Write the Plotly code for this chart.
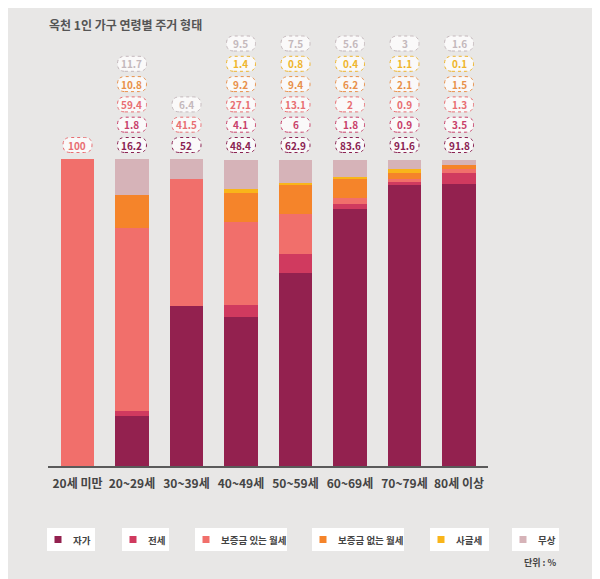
import plotly.graph_objects as go

categories = ["20세 미만", "20~29세", "30~39세", "40~49세", "50~59세", "60~69세", "70~79세", "80세 이상"]
series_names = ["자가", "전세", "보증금 있는 월세", "보증금 없는 월세", "사글세", "무상"]
jaga = [0, 16.2, 52, 48.4, 62.9, 83.6, 91.6, 91.8]
jeonse = [0, 1.8, 0, 4.1, 6, 1.8, 0.9, 3.5]
wolse_dep = [100, 59.4, 41.5, 27.1, 13.1, 2, 0.9, 1.3]
wolse_nodep = [0, 10.8, 0, 9.2, 9.4, 6.2, 2.1, 1.5]
sagulse = [0, 0, 0, 1.4, 0.8, 0.4, 1.1, 0.1]
musang = [0, 11.7, 6.4, 9.5, 7.5, 5.6, 3, 1.6]
series_values = [jaga, jeonse, wolse_dep, wolse_nodep, sagulse, musang]

bar_colors = ["#93214f", "#d03a5f", "#f16f6b", "#f5842a", "#f9b51a", "#d6b3b8"]
label_colors = ["#8a2252", "#c8406a", "#e86e72", "#e8904a", "#efb52c", "#c4b8bc"]

OFF = 8  # page body margin
W, H = 592, 571
L, R, T, B = 40, 112, 22, 113
plot_w = W - L - R
plot_h = H - T - B
px_per_unit = 3.07
y_top = plot_h / px_per_unit
base_px = OFF + H - B  # baseline in screen pixels
bg = "#e8e7e6"
font_kr = "Noto Sans CJK KR"

def px2x(px):
    return (px - OFF - L) / plot_w

def py2y(py):
    return (H - B - (py - OFF)) / plot_h

xs = list(range(len(categories)))
fig = go.Figure()
for name, vals, col in zip(series_names, series_values, bar_colors):
    fig.add_trace(go.Bar(x=xs, y=vals, name=name, marker=dict(color=col, line=dict(width=0)),
                         width=0.62, showlegend=False, hoverinfo="y+name"))

shapes = []
annotations = []

pill = ("M -7,-7.5 L 7,-7.5 Q 14.5,-7.5 14.5,0 Q 14.5,7.5 7,7.5 "
        "L -7,7.5 Q -14.5,7.5 -14.5,0 Q -14.5,-7.5 -7,-7.5 Z")
for i in xs:
    row = 0
    for s, vals in enumerate(series_values):
        v = vals[i]
        if v == 0:
            continue
        ypix = 145 - 20.3 * row
        yval = (base_px - ypix) / px_per_unit
        shapes.append(dict(type="path", xref="x", yref="y", xsizemode="pixel", ysizemode="pixel",
                           xanchor=i, yanchor=yval, path=pill,
                           fillcolor="rgba(251,250,250,0.95)",
                           line=dict(color=label_colors[s], width=1, dash="dot")))
        annotations.append(dict(x=i, y=yval, xref="x", yref="y", text=f"{v:g}", showarrow=False,
                                font=dict(family=font_kr, size=10, color=label_colors[s], weight="bold")))
        row += 1

legend_boxes = [(47, 95), (122, 169), (195, 287), (312, 404), (430, 489), (512, 559)]
for (x0, x1), name, col in zip(legend_boxes, series_names, bar_colors):
    shapes.append(dict(type="rect", xref="paper", yref="paper", x0=px2x(x0), x1=px2x(x1),
                       y0=py2y(551), y1=py2y(528), fillcolor="white", line=dict(width=0), layer="below"))
    sx = x0 + 11
    shapes.append(dict(type="rect", xref="paper", yref="paper", x0=px2x(sx - 3.5), x1=px2x(sx + 3.5),
                       y0=py2y(543), y1=py2y(536), fillcolor=col, line=dict(width=0)))
    annotations.append(dict(x=px2x(sx + 13), y=py2y(539.5), xref="paper", yref="paper", text=name,
                            xanchor="left", yanchor="middle", showarrow=False,
                            font=dict(family=font_kr, size=9.5, color="#444444", weight="bold")))

annotations.append(dict(x=px2x(559), y=py2y(562), xref="paper", yref="paper", text="단위 : %",
                        xanchor="right", yanchor="middle", showarrow=False,
                        font=dict(family=font_kr, size=9, color="#444444", weight="bold")))
annotations.append(dict(x=px2x(47), y=py2y(25), xref="paper", yref="paper",
                        text="옥천 1인 가구 연령별 주거 형태",
                        xanchor="left", yanchor="middle", showarrow=False,
                        font=dict(family=font_kr, size=12, color="#555555", weight="bold")))

fig.update_layout(
    width=W, height=H, barmode="stack",
    margin=dict(l=L, r=R, t=T, b=B, autoexpand=False),
    paper_bgcolor=bg, plot_bgcolor=bg,
    shapes=shapes, annotations=annotations,
    xaxis=dict(range=[-0.541, 7.532], tickvals=xs, ticktext=categories, showgrid=False,
               zeroline=False, showline=True, linecolor="#5a5a5a", linewidth=1.5,
               ticks="", ticklabelstandoff=6,
               tickfont=dict(family=font_kr, size=12, color="#444444", weight="bold")),
    yaxis=dict(range=[0, y_top], visible=False, showgrid=False, zeroline=False),
)

fig.write_html("out.html")
